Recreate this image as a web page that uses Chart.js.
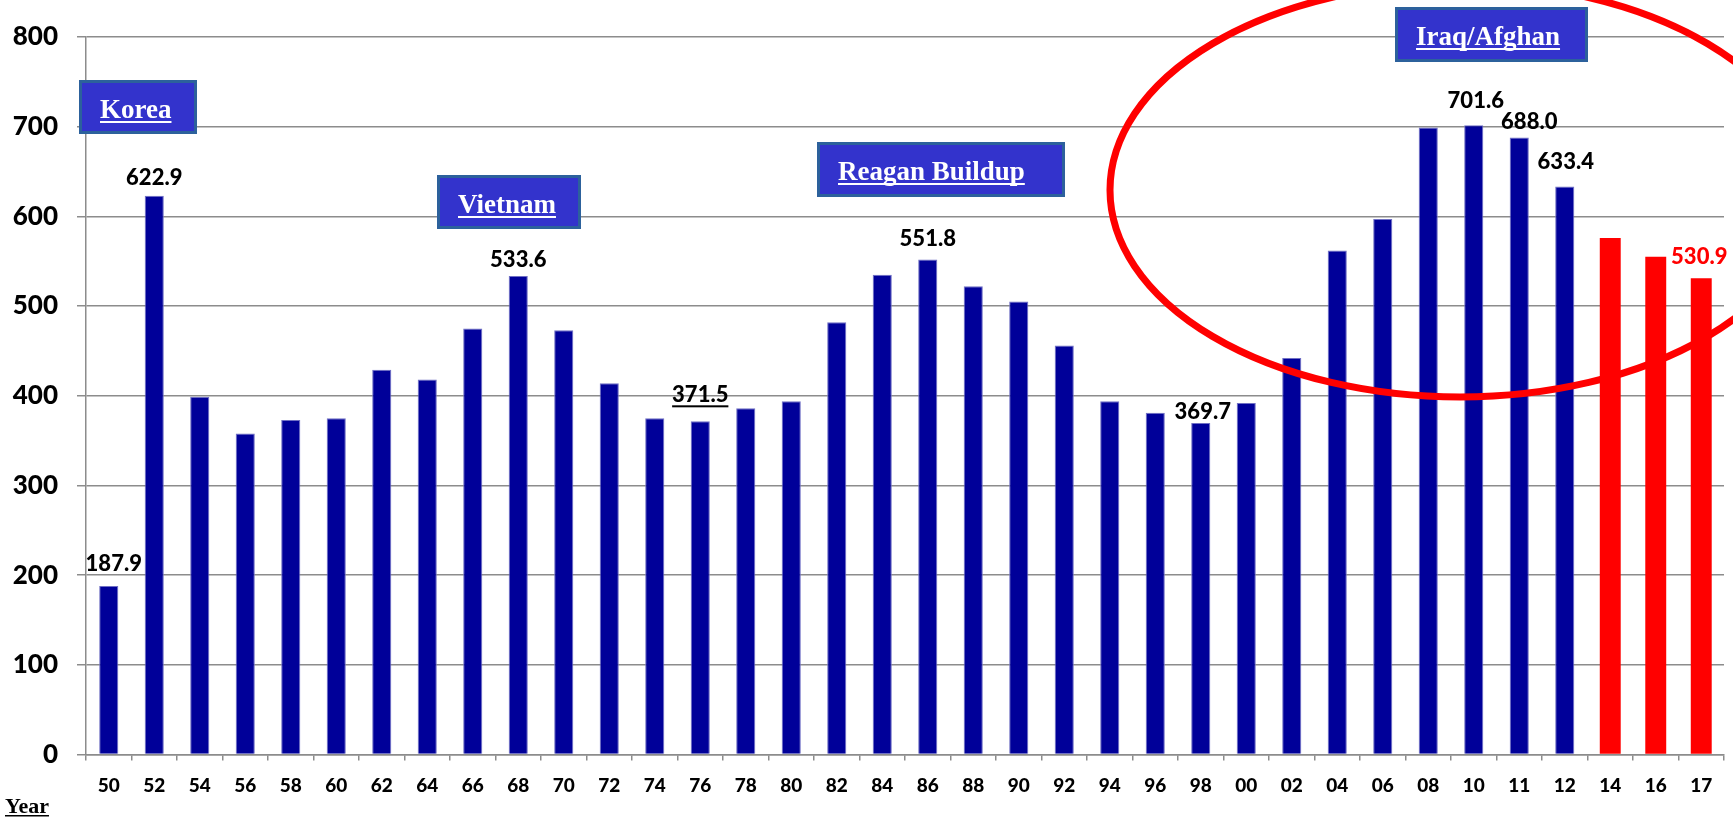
<!DOCTYPE html>
<html>
<head>
<meta charset="utf-8">
<script src="https://cdn.jsdelivr.net/npm/chart.js@4.4.1/dist/chart.umd.min.js"></script>
<style>
    html, body { margin: 0; padding: 0; background: #fff; }
    #wrap { width: 1733px; height: 817px; position: relative; }
</style>
</head>
<body>
<div id="wrap"><canvas id="graficoGastos"></canvas></div>
<script>
// anos (eixo x)
const years = ["50", "52", "54", "56", "58", "60", "62", "64", "66", "68",
    "70", "72", "74", "76", "78", "80", "82", "84", "86", "88",
    "90", "92", "94", "96", "98", "00", "02", "04", "06", "08",
    "10", "11", "12", "14", "16", "17"];

// valores
const spending = [187.9, 622.9, 399, 358, 373, 375, 429, 418, 475, 533.6,
    473, 414, 375, 371.5, 386, 394, 482, 535, 551.8, 522,
    505, 456, 394, 381, 369.7, 392, 442, 562, 597, 699,
    701.6, 688.0, 633.4, 576, 555, 530.9];

// ultimos anos em vermelho (projecao)
const projectedYears = ["14", "16", "17"];

// anos com rotulo de valor
const labeledYears = ["50", "52", "68", "76", "86", "98", "10", "11", "12", "17"];

// escala y
const yTicks = [0, 100, 200, 300, 400, 500, 600, 700, 800];

// caixas de anotacao
const eras = ["Korea", "Vietnam", "Reagan Buildup", "Iraq/Afghan"];

const AZUL = '#000099';
const VERMELHO = '#FF0000';
const GRADE = '#8c8c8c';

const valoresAzuis = spending.map((v, i) => projectedYears.includes(years[i]) ? null : v);
const valoresVermelhos = spending.map((v, i) => projectedYears.includes(years[i]) ? v : null);

// ajustes finos dos rotulos
const ajusteRotulo = {
    "50": { dx: 5, dy: -1 },
    "52": { dx: 0, dy: 3 },
    "68": { dx: 0, dy: 5 },
    "76": { dx: 0, dy: -5 },
    "98": { dx: 2, dy: 10 },
    "10": { dx: 2, dy: -3 },
    "11": { dx: 10, dy: 5 },
    "12": { dx: 1, dy: -4 },
    "17": { dx: -2, dy: 0 }
};

// posicao das caixas (x, y, largura, altura)
const caixas = {
    "Korea": [79, 80, 118, 54],
    "Vietnam": [437, 175, 144, 54],
    "Reagan Buildup": [817, 142, 248, 55],
    "Iraq/Afghan": [1395, 7, 193, 55]
};

Chart.defaults.font.family = 'Lato, "Open Sans", sans-serif';

const rotulosPlugin = {
    id: 'rotulos',
    afterDatasetsDraw(chart) {
        const ctx = chart.ctx;
        ctx.save();
        ctx.font = '900 22px Lato';
        ctx.textAlign = 'center';
        ctx.textBaseline = 'middle';
        labeledYears.forEach(function (ano) {
            const i = years.indexOf(ano);
            const vermelho = projectedYears.includes(ano);
            const meta = chart.getDatasetMeta(vermelho ? 1 : 0);
            const bar = meta.data[i];
            const aj = ajusteRotulo[ano] || { dx: 0, dy: 0 };
            const texto = spending[i].toFixed(1);
            const x = bar.x + aj.dx;
            const y = bar.y - 21 + aj.dy;
            ctx.fillStyle = vermelho ? VERMELHO : '#000';
            ctx.fillText(texto, x, y);
            if (ano === "76") {
                const w = ctx.measureText(texto).width;
                ctx.fillRect(x - w / 2, y + 10, w, 2);
            }
        });
        ctx.restore();
    },
    afterDraw(chart) {
        const ctx = chart.ctx;
        ctx.save();
        // caixas das guerras
        eras.forEach(function (nome) {
            const [x, y, w, h] = caixas[nome];
            ctx.fillStyle = '#3333CC';
            ctx.fillRect(x, y, w, h);
            ctx.strokeStyle = '#2C619C';
            ctx.lineWidth = 3;
            ctx.strokeRect(x + 1.5, y + 1.5, w - 3, h - 3);
            ctx.font = 'bold 27px "Liberation Serif", "Times New Roman", serif';
            ctx.fillStyle = '#fff';
            ctx.textAlign = 'left';
            ctx.textBaseline = 'alphabetic';
            ctx.fillText(nome, x + 21, y + 38);
            const tw = ctx.measureText(nome).width;
            ctx.fillRect(x + 21, y + 41, tw, 2);
        });

        // elipse vermelha
        ctx.beginPath();
        ctx.ellipse(1460, 190, 350, 207, 0, 0, Math.PI * 2);
        ctx.strokeStyle = VERMELHO;
        ctx.lineWidth = 7;
        ctx.stroke();

        // "Year"
        ctx.font = 'bold 22px "Liberation Serif", "Times New Roman", serif';
        ctx.fillStyle = '#000';
        ctx.textAlign = 'left';
        ctx.textBaseline = 'alphabetic';
        ctx.fillText('Year', 5, 813);
        const yw = ctx.measureText('Year').width;
        ctx.fillRect(5, 815, yw, 1.5);
        ctx.restore();
    }
};

new Chart(document.getElementById('graficoGastos'), {
    type: 'bar',
    data: {
        labels: years,
        datasets: [{
            data: valoresAzuis,
            backgroundColor: AZUL,
            borderColor: '#6f6fc4',
            borderWidth: 1,
            barPercentage: 0.42,
            categoryPercentage: 1,
            grouped: false
        }, {
            data: valoresVermelhos,
            backgroundColor: VERMELHO,
            borderWidth: 0,
            barPercentage: 0.46,
            categoryPercentage: 1,
            grouped: false
        }]
    },
    options: {
        responsive: true,
        maintainAspectRatio: false,
        animation: false,
        layout: { padding: { top: 37, right: 9, left: 0, bottom: 0 } },
        plugins: {
            legend: { display: false },
            tooltip: { enabled: false }
        },
        scales: {
            x: {
                offset: true,
                grid: {
                    offset: true,
                    drawOnChartArea: false,
                    drawTicks: true,
                    tickLength: 6,
                    color: GRADE,
                    lineWidth: 1.5
                },
                border: { color: GRADE, width: 1.5 },
                ticks: {
                    color: '#000',
                    font: { size: 19, weight: '900' },
                    padding: 14,
                    maxRotation: 0,
                    autoSkip: false
                },
                afterFit(scale) { scale.height = 62.5; }
            },
            y: {
                min: yTicks[0],
                max: yTicks[yTicks.length - 1],
                afterBuildTicks(scale) {
                    scale.ticks = yTicks.map(v => ({ value: v }));
                },
                grid: {
                    color: GRADE,
                    lineWidth: 1.5,
                    tickLength: 9
                },
                border: { color: GRADE, width: 1.5 },
                ticks: {
                    color: '#000',
                    font: { size: 26, weight: '900' },
                    padding: 19
                },
                afterFit(scale) { scale.width = 86; }
            }
        }
    },
    plugins: [rotulosPlugin]
});
</script>
</body>
</html>
